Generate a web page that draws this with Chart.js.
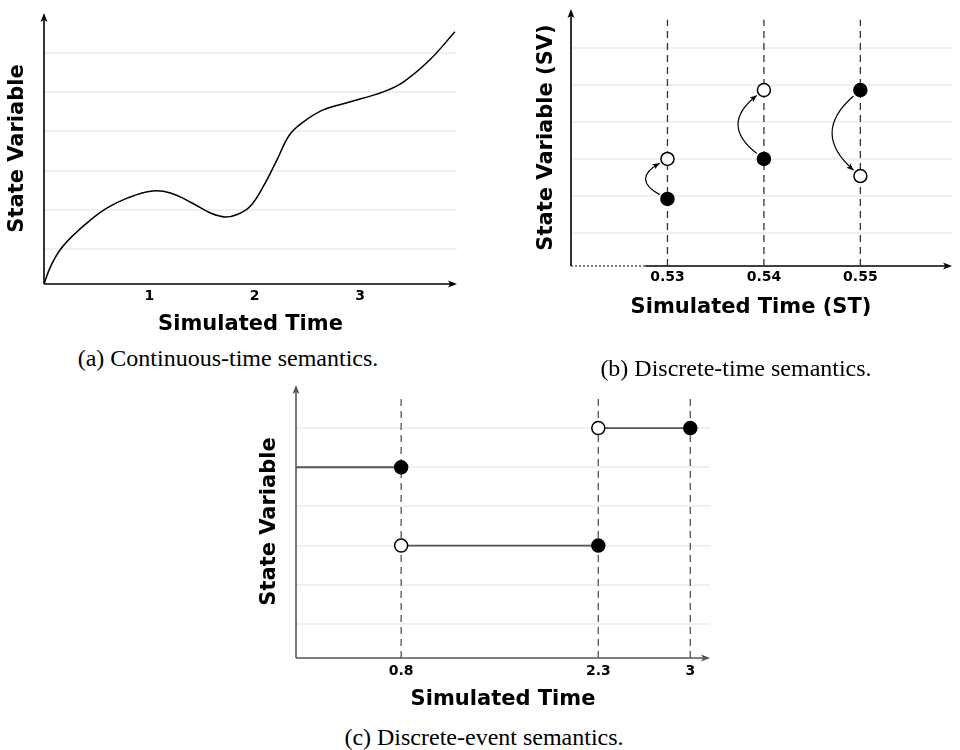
<!DOCTYPE html>
<html>
<head>
<meta charset="utf-8">
<script src="https://cdn.jsdelivr.net/npm/chart.js@4.4.0/dist/chart.umd.min.js"></script>
<style>
  html, body { margin: 0; padding: 0; background: #fff; overflow: hidden; }
  #page { position: relative; width: 960px; height: 750px; }
  canvas { position: absolute; }
  .caption {
    position: absolute; width: 400px; text-align: center; white-space: nowrap;
    font-family: 'Liberation Serif', 'Times New Roman', serif; font-size: 24px; line-height: 28px; color: #000;
  }
</style>
</head>
<body>
<div id="page">
  <canvas id="continuousChart" width="470" height="340" style="left:0;top:0"></canvas>
  <canvas id="discreteTimeChart" width="480" height="345" style="left:480px;top:0"></canvas>
  <canvas id="discreteEventChart" width="480" height="345" style="left:240px;top:375px"></canvas>
  <div class="caption" style="left:28px;top:344px">(a) Continuous-time semantics.</div>
  <div class="caption" style="left:536px;top:354px">(b) Discrete-time semantics.</div>
  <div class="caption" style="left:284px;top:723px">(c) Discrete-event semantics.</div>
</div>
<script>
// === Data ===

// light horizontal guide lines (same levels in all three panels)
const gridLevels = [1, 2, 3, 4, 5, 6];

// (a) continuous-time: one smooth trajectory
const ctTime  = [0, 0.06, 0.15, 0.28, 0.44, 0.6, 0.79, 1.03, 1.2, 1.41, 1.58, 1.72, 1.84, 1.96, 2.08, 2.21, 2.33, 2.46, 2.65, 2.9, 3.22, 3.41, 3.66, 3.9];
const ctState = [0.11, 0.54, 0.97, 1.36, 1.74, 2.05, 2.3, 2.48, 2.43, 2.17, 1.92, 1.82, 1.89, 2.1, 2.59, 3.27, 3.91, 4.24, 4.55, 4.75, 5.01, 5.26, 5.82, 6.54];
const ctTicks = [1, 2, 3];
const ctTickLabels = ['1', '2', '3'];

// (b) discrete-time: value before (filled) and after (open) each step
const dtTime = [0.53, 0.54, 0.55];
const dtTickLabels = ['0.53', '0.54', '0.55'];
const dtBefore = [1.92, 3.0, 4.86];
const dtAfter  = [3.0, 4.86, 2.54];
const dtDashTop = 6.76;

// (c) discrete-event: piecewise constant segments between events
const deEvents = [0.8, 2.3, 3];
const deTickLabels = ['0.8', '2.3', '3'];
const deStepStart = [0, 0.8, 2.3];
const deStepEnd   = [0.8, 2.3, 3];
const deStepLevel = [5, 3, 6];
const deDashTop = 6.77;

// === Helpers ===
const sansBold = (size) => ({ family: "'DejaVu Sans', Verdana, sans-serif", size: size, weight: 'bold' });

function arrowHead(ctx, x, y, angle, len, half) {
    ctx.save();
    ctx.translate(x, y);
    ctx.rotate(angle);
    ctx.beginPath();
    ctx.moveTo(0, 0);
    ctx.lineTo(-len, -half);
    ctx.lineTo(-len * 0.75, 0);
    ctx.lineTo(-len, half);
    ctx.closePath();
    ctx.fill();
    ctx.restore();
}

// axes with arrow tips (x axis of panel b starts dotted)
const axisArrows = {
    id: 'axisArrows',
    beforeDatasetsDraw(chart, args, opts) {
        const { ctx, chartArea: a } = chart;
        ctx.save();
        ctx.strokeStyle = opts.color;
        ctx.fillStyle = opts.color;
        ctx.lineWidth = 1.6;
        ctx.beginPath();
        ctx.moveTo(a.left, a.bottom);
        ctx.lineTo(a.left, a.top + 4);
        ctx.stroke();
        arrowHead(ctx, a.left, a.top, -Math.PI / 2, 9, 3.5);

        let solidFrom = a.left;
        if (opts.dottedTo != null) {
            solidFrom = chart.scales.x.getPixelForValue(opts.dottedTo);
            ctx.save();
            ctx.lineWidth = 1;
            ctx.setLineDash([2, 2]);
            ctx.beginPath();
            ctx.moveTo(a.left, a.bottom);
            ctx.lineTo(solidFrom, a.bottom);
            ctx.stroke();
            ctx.restore();
        }
        ctx.beginPath();
        ctx.moveTo(solidFrom, a.bottom);
        ctx.lineTo(a.right - 4, a.bottom);
        ctx.stroke();
        arrowHead(ctx, a.right, a.bottom, 0, 9, 3.5);
        ctx.restore();
    }
};

// curved arrows from the filled point to the open point (panel b)
const jumpArrows = {
    id: 'jumpArrows',
    afterDatasetsDraw(chart, args, opts) {
        if (!opts.x) return;
        const { ctx, scales: { x, y } } = chart;
        ctx.save();
        ctx.strokeStyle = '#000';
        ctx.fillStyle = '#000';
        ctx.lineWidth = 1.2;
        opts.x.forEach((t, i) => {
            const px = x.getPixelForValue(t);
            const y0 = y.getPixelForValue(opts.from[i]);
            const y1 = y.getPixelForValue(opts.to[i]);
            const cx = px - (24 + 0.3 * Math.abs(y1 - y0));
            const cy = (y0 + y1) / 2;
            const edge = (py) => {
                const dx = cx - px, dy = cy - py, d = Math.hypot(dx, dy);
                return [px + dx / d * 9, py + dy / d * 9];
            };
            const [sx, sy] = edge(y0);
            const [ex, ey] = edge(y1);
            ctx.beginPath();
            ctx.moveTo(sx, sy);
            ctx.quadraticCurveTo(cx, cy, ex, ey);
            ctx.stroke();
            arrowHead(ctx, ex, ey, Math.atan2(ey - cy, ex - cx), 7, 3);
        });
        ctx.restore();
    }
};

function scalesFor(p) {
    return {
        x: {
            type: 'linear', min: p.xMin, max: p.xMax,
            afterBuildTicks: (axis) => { axis.ticks = p.xTicks.map(v => ({ value: v })); },
            afterFit: (axis) => { axis.height = p.xBox; axis.paddingLeft = 0; axis.paddingRight = 0; },
            grid: { display: false, drawTicks: false },
            border: { display: false },
            ticks: {
                color: '#000', font: sansBold(14), padding: p.tickPad,
                maxRotation: 0, autoSkip: false,
                callback: (v, i) => p.xLabels[i]
            },
            title: { display: true, text: p.xTitle, color: '#000', font: sansBold(21), padding: { top: 0, bottom: p.xTitlePad } }
        },
        y: {
            type: 'linear', min: p.yMin, max: p.yMax,
            afterBuildTicks: (axis) => { axis.ticks = gridLevels.map(v => ({ value: v })); },
            afterFit: (axis) => { axis.width = p.yBox; axis.paddingTop = 0; axis.paddingBottom = 0; },
            grid: { color: '#f0f0f0', lineWidth: 2, drawTicks: false },
            border: { display: false },
            ticks: { display: false },
            title: { display: true, text: p.yTitle, color: '#000', font: sansBold(21), padding: { top: p.yTitlePad, bottom: 0 } }
        }
    };
}

function dashedVerticals(xs, yMin, top, color) {
    return xs.map(t => ({
        data: [{ x: t, y: yMin }, { x: t, y: top }],
        showLine: true, borderColor: color, borderWidth: 1.3, borderDash: [7, 5],
        pointRadius: 0, order: 3
    }));
}

const filledPoint = { showLine: false, pointRadius: 6.5, pointBackgroundColor: '#000', pointBorderColor: '#000', pointBorderWidth: 1.5, order: 0 };
const openPoint = { showLine: false, pointRadius: 6.5, pointBackgroundColor: '#fff', pointBorderColor: '#000', pointBorderWidth: 1.5, order: 0 };

const baseOptions = {
    responsive: false,
    animation: false,
    events: []
};

// === (a) Continuous-time ===
new Chart(document.getElementById('continuousChart'), {
    type: 'scatter',
    data: {
        datasets: [{
            data: ctTime.map((t, i) => ({ x: t, y: ctState[i] })),
            showLine: true, borderColor: '#000', borderWidth: 1.5,
            pointRadius: 0, tension: 0.4
        }]
    },
    options: {
        ...baseOptions,
        layout: { padding: { top: 13, right: 13, left: 0, bottom: 0 } },
        plugins: { legend: { display: false }, tooltip: { enabled: false }, axisArrows: { color: '#000' } },
        scales: scalesFor({
            xMin: 0, xMax: 3.92, xTicks: ctTicks, xLabels: ctTickLabels, xBox: 56, tickPad: 3.6,
            xTitle: 'Simulated Time', xTitlePad: 2.4,
            yMin: 0.11, yMax: 7.02, yBox: 44, yTitle: 'State Variable', yTitlePad: 5.4
        })
    },
    plugins: [axisArrows]
});

// === (b) Discrete-time ===
new Chart(document.getElementById('discreteTimeChart'), {
    type: 'scatter',
    data: {
        datasets: [
            { ...filledPoint, data: dtTime.map((t, i) => ({ x: t, y: dtBefore[i] })) },
            { ...openPoint, data: dtTime.map((t, i) => ({ x: t, y: dtAfter[i] })) },
            ...dashedVerticals(dtTime, 0.11, dtDashTop, '#333')
        ]
    },
    options: {
        ...baseOptions,
        layout: { padding: { top: 9, right: 0, left: 0, bottom: 0 } },
        plugins: {
            legend: { display: false }, tooltip: { enabled: false },
            axisArrows: { color: '#000', dottedTo: 0.5277 },
            jumpArrows: { x: dtTime, from: dtBefore, to: dtAfter }
        },
        scales: scalesFor({
            xMin: 0.52, xMax: 0.5595, xTicks: dtTime, xLabels: dtTickLabels, xBox: 79, tickPad: 2.6,
            xTitle: 'Simulated Time (ST)\u2003', xTitlePad: 24.4,
            yMin: 0.11, yMax: 7.05, yBox: 91, yTitle: 'State Variable (SV)', yTitlePad: 54.4
        })
    },
    plugins: [axisArrows, jumpArrows]
});

// === (c) Discrete-event ===
const stepSets = deStepStart.map((s, i) => ({
    data: [{ x: s, y: deStepLevel[i] }, { x: deStepEnd[i], y: deStepLevel[i] }],
    showLine: true, borderColor: '#555', borderWidth: 1.8, pointRadius: 0, order: 2
}));

new Chart(document.getElementById('discreteEventChart'), {
    type: 'scatter',
    data: {
        datasets: [
            { ...filledPoint, data: deStepEnd.map((e, i) => ({ x: e, y: deStepLevel[i] })) },
            { ...openPoint, data: deStepStart.slice(1).map((s, i) => ({ x: s, y: deStepLevel[i + 1] })) },
            ...stepSets,
            ...dashedVerticals(deEvents, 0.13, deDashTop, '#555')
        ]
    },
    options: {
        ...baseOptions,
        layout: { padding: { top: 10, right: 10, left: 0, bottom: 0 } },
        plugins: { legend: { display: false }, tooltip: { enabled: false }, axisArrows: { color: '#555' } },
        scales: scalesFor({
            xMin: 0, xMax: 3.15, xTicks: deEvents, xLabels: deTickLabels, xBox: 62, tickPad: 4.6,
            xTitle: 'Simulated Time', xTitlePad: 7.4,
            yMin: 0.13, yMax: 7.1, yBox: 56, yTitle: 'State Variable', yTitlePad: 17.4
        })
    },
    plugins: [axisArrows]
});
</script>
</body>
</html>
